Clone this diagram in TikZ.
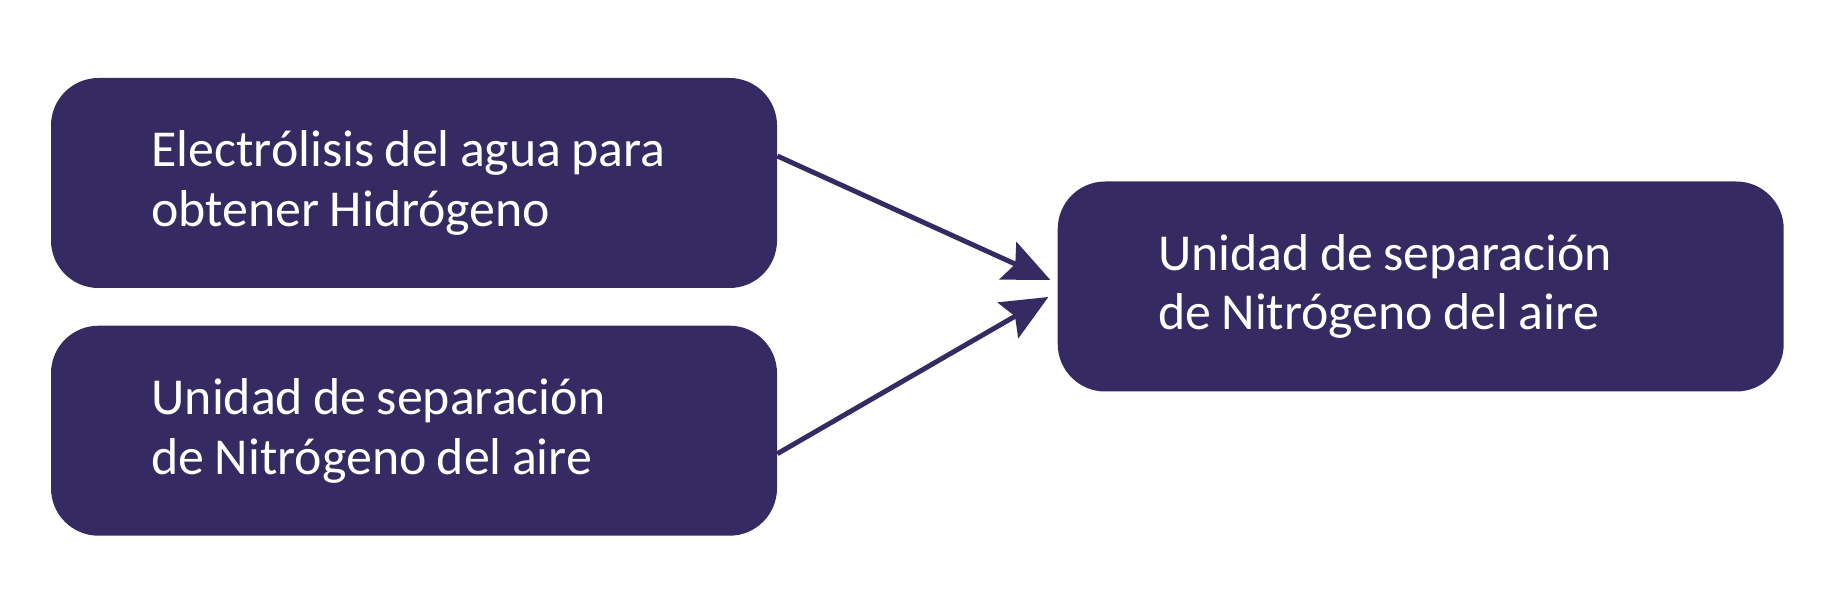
\documentclass[tikz,border=0pt]{standalone}
\usepackage{fontspec}
\setmainfont{Carlito}
\usetikzlibrary{arrows.meta, positioning}
\definecolor{morado}{RGB}{54,42,99}
\newcommand{\fuentebloque}{\fontsize{29.5}{34}\selectfont\spaceskip=0.2em plus 0.02em\relax}

\begin{document}
\begin{tikzpicture}[
    bloque/.style={rectangle, rounded corners=0.95cm, fill=morado, text=white,
        minimum width=14.52cm, minimum height=4.2cm, text width=10.5cm,
        inner xsep=2.01cm, align=flush left, font=\fuentebloque},
    flecha/.style={line width=2.8pt, draw=morado,
        -{Stealth[length=0.93cm, width=0.82cm, inset=0.16cm]}}
]
\useasboundingbox (0,0) rectangle (36.9,-12.02);

% Nodos
\node (electrolisis) [bloque] at (8.28,-3.66) {Electrólisis del agua para\\obtener Hidrógeno};
\node (separacion) [bloque, below=0.74cm of electrolisis] {Unidad de separación\\de Nitrógeno del aire};
\node (salida) [bloque, right=5.6cm of electrolisis, yshift=-2.07cm] {Unidad de separación\\de Nitrógeno del aire};

% Flechas
\draw [flecha] ([yshift=0.54cm]electrolisis.east) -- ([xshift=-0.14cm, yshift=0.13cm]salida.west);
\draw [flecha] ([yshift=-0.46cm]separacion.east) -- ([xshift=-0.18cm, yshift=-0.21cm]salida.west);

\end{tikzpicture}
\end{document}
